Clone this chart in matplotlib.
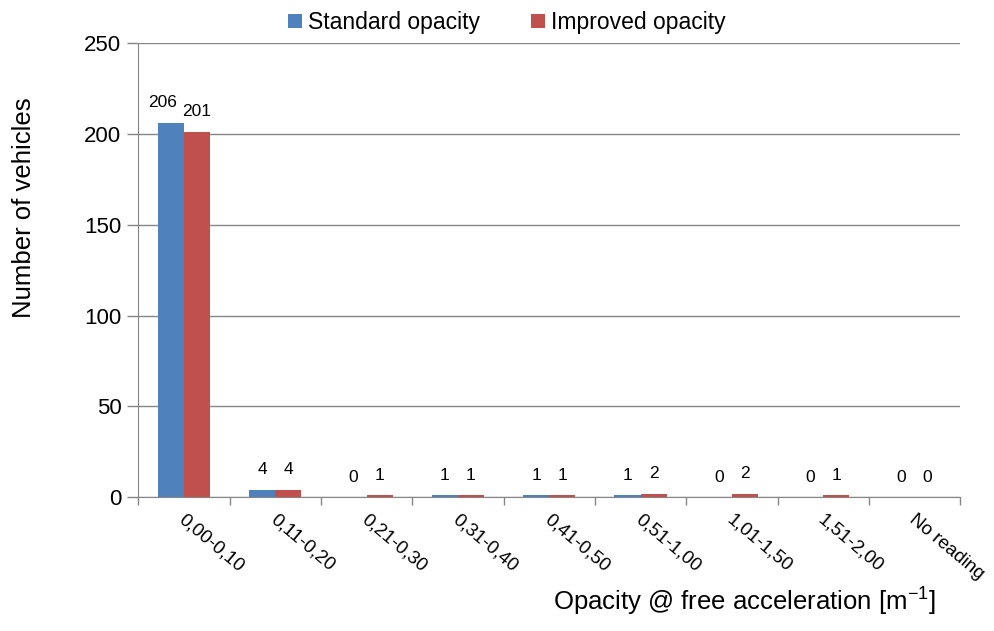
import matplotlib.pyplot as plt
import numpy as np

# data
categories = ["0,00-0,10", "0,11-0,20", "0,21-0,30", "0,31-0,40", "0,41-0,50",
              "0,51-1,00", "1,01-1,50", "1,51-2,00", "No reading"]
standard = [206, 4, 0, 1, 1, 1, 0, 0, 0]
improved = [201, 4, 1, 1, 1, 2, 2, 1, 0]

blue = "#4F81BD"
red = "#C0504D"
grey = "#868686"

plt.rcParams["font.family"] = ["Liberation Sans", "DejaVu Sans"]

fig = plt.figure(figsize=(9.94, 6.31), dpi=100)
ax = fig.add_axes([0.139, 0.212, 0.827, 0.72])

x = np.arange(len(categories))
w = 0.285
b1 = ax.bar(x - w / 2, standard, w, color=blue, label="Standard opacity", zorder=3)
b2 = ax.bar(x + w / 2, improved, w, color=red, label="Improved opacity", zorder=3)

for bars, vals, side in ((b1, standard, -1), (b2, improved, 1)):
    for rect, v in zip(bars, vals):
        # three-digit labels would touch, so nudge the left one aside
        dx = -6 if (side < 0 and v >= 100) else 0
        ax.annotate(str(v), (rect.get_x() + rect.get_width() / 2, v),
                    xytext=(dx, 9), textcoords="offset points",
                    ha="center", va="bottom", fontsize=12.5)

ax.set_xlim(-0.5, len(categories) - 0.5)
ax.set_ylim(0, 250)
ax.set_yticks(range(0, 251, 50))
ax.yaxis.grid(True, color=grey, linewidth=1, zorder=0)

# category boundaries carry the tick marks, labels sit under the centres
ax.set_xticks(np.arange(len(categories) + 1) - 0.5)
ax.set_xticklabels([])
ax.tick_params(axis="x", length=6, color=grey, width=1)
ax.tick_params(axis="y", length=8, color=grey, width=1, labelsize=16, pad=4)

for xi, lab in zip(x, categories):
    ax.annotate(lab, (xi, 0), xytext=(2, -10), textcoords="offset points",
                rotation=-40, rotation_mode="anchor", ha="left", va="top",
                fontsize=13.5, annotation_clip=False)

for s in ("top", "right"):
    ax.spines[s].set_visible(False)
for s in ("left", "bottom"):
    ax.spines[s].set_color(grey)

fig.text(0.024, 0.671, "Number of vehicles", rotation=90, ha="center", va="center",
         fontsize=18.5)
fig.text(0.941, 0.049, "Opacity @ free acceleration [m$^{\\mathregular{-1}}$]", ha="right",
         va="center", fontsize=18.5)

fig.legend(loc="upper center", bbox_to_anchor=(0.51, 1.015), ncol=2, frameon=False,
           fontsize=16.5, handlelength=0.6, handleheight=0.6, handletextpad=0.3,
           columnspacing=2.2)

fig.savefig("out.png", dpi=100)
